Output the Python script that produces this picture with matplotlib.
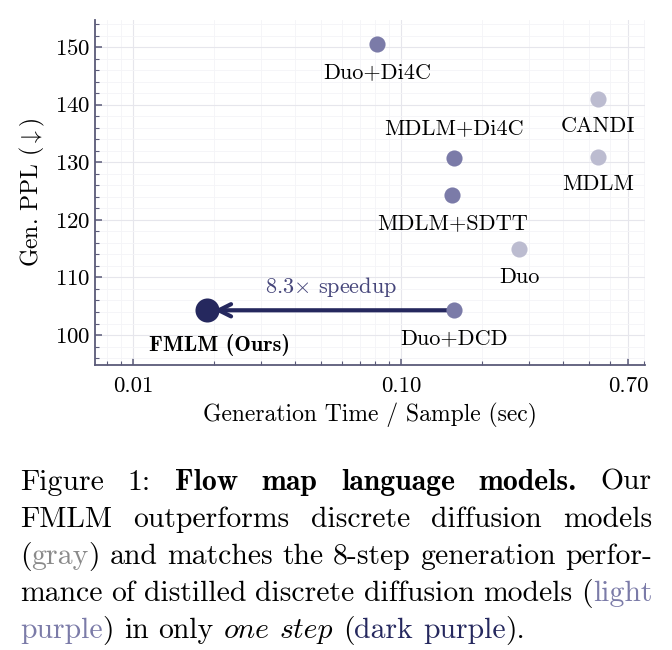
import numpy as np
import matplotlib
matplotlib.use("Agg")
import matplotlib.pyplot as plt
from matplotlib.ticker import FixedLocator, LogLocator, MultipleLocator, NullFormatter

plt.rcParams['font.family'] = ['cmr10', 'DejaVu Serif']
plt.rcParams['mathtext.fontset'] = 'cm'
plt.rcParams['axes.formatter.use_mathtext'] = True

# data (generation time in sec, gen. perplexity)
names = ['Duo+Di4C', 'CANDI', 'MDLM', 'MDLM+Di4C', 'MDLM+SDTT', 'Duo', 'Duo+DCD', 'FMLM (Ours)']
gen_time = [0.081, 0.54, 0.54, 0.157, 0.155, 0.275, 0.157, 0.0189]
gen_ppl = [150.5, 141.0, 131.0, 130.8, 124.3, 114.9, 104.3, 104.3]
group = ['light', 'gray', 'gray', 'light', 'light', 'gray', 'light', 'dark']
label_offset = [(0, -20), (0, -20), (0, -20), (0, 21), (0, -20), (0, -20), (0, -20), (9, -25)]

x_ticks = [0.01, 0.1, 0.7]
x_ticklabels = ['0.01', '0.10', '0.70']
y_ticks = [100, 110, 120, 130, 140, 150]

colors = {'gray': '#bcbcd0', 'light': '#7b7ba8', 'dark': '#25285e'}
axis_col = '#5a5a78'

fig = plt.figure(figsize=(6.72, 6.5), dpi=100)
ax = fig.add_axes([95 / 672, 1 - 365 / 650, 550 / 672, 345 / 650])

ax.set_xscale('log')
ax.set_xlim(0.0072, 0.81)
ax.set_ylim(94.8, 154.7)

# arrow first so the points sit on top
i_src, i_dst = names.index('Duo+DCD'), names.index('FMLM (Ours)')
ax.annotate('', xy=(gen_time[i_dst] * 1.06, gen_ppl[i_dst]), xytext=(gen_time[i_src], gen_ppl[i_src]),
            arrowprops=dict(arrowstyle='->', lw=3, color=colors['dark'], mutation_scale=22,
                            shrinkA=0, shrinkB=0), zorder=2)
ax.text(np.sqrt(gen_time[i_src] * gen_time[i_dst]), gen_ppl[i_src] + 1.9, r'8.3$\times$ speedup',
        ha='center', va='bottom', fontsize=16, color='#45457a')

for n, t, p, g, off in zip(names, gen_time, gen_ppl, group, label_offset):
    ax.scatter(t, p, s=300 if g == 'dark' else 135, color=colors[g], zorder=3, linewidths=0)
    if g == 'dark':
        ax.annotate(n, (t, p), xytext=off, textcoords='offset points', ha='center', va='center',
                    fontsize=16, family='cmb10')
    else:
        ax.annotate(n, (t, p), xytext=off, textcoords='offset points', ha='center', va='center',
                    fontsize=16)

ax.xaxis.set_major_locator(FixedLocator(x_ticks))
ax.set_xticklabels(x_ticklabels)
ax.xaxis.set_minor_locator(LogLocator(base=10, subs=np.arange(2, 10)))
ax.xaxis.set_minor_formatter(NullFormatter())
ax.yaxis.set_major_locator(FixedLocator(y_ticks))
ax.yaxis.set_minor_locator(MultipleLocator(2))

ax.grid(which='major', color='#e6e6ec', lw=0.8)
ax.grid(which='minor', color='#f4f4f7', lw=0.6)
ax.set_axisbelow(True)
for s in ['top', 'right']:
    ax.spines[s].set_visible(False)
for s in ['left', 'bottom']:
    ax.spines[s].set_color(axis_col)
    ax.spines[s].set_linewidth(1.3)
ax.tick_params(which='both', direction='in', color=axis_col, labelsize=16.5)
ax.tick_params(axis='x', which='both', pad=8)
ax.tick_params(axis='y', which='both', pad=3)
ax.tick_params(which='major', length=5, width=1.1)
ax.tick_params(which='minor', length=3, width=0.8)

ax.set_xlabel('Generation Time / Sample (sec)', fontsize=17, labelpad=5)
ax.set_ylabel(r'Gen. PPL ($\downarrow$)', fontsize=17, labelpad=6)

# caption, justified word by word
R, B, I = 'cmr10', 'cmb10', 'cmmi10'
K, G, LP, DP = 'black', '#8a8a8a', '#7b7ba8', '#25285e'
caption = [
    [[('Figure', R, K)], [('1:', R, K)], [('Flow', B, K)], [('map', B, K)], [('language', B, K)],
     [('models.', B, K)], [('Our', R, K)]],
    [[('FMLM', R, K)], [('outperforms', R, K)], [('discrete', R, K)], [('diffusion', R, K)], [('models', R, K)]],
    [[('(', R, K), ('gray', R, G), (')', R, K)], [('and', R, K)], [('matches', R, K)], [('the', R, K)],
     [('8-step', R, K)], [('generation', R, K)], [('perfor-', R, K)]],
    [[('mance', R, K)], [('of', R, K)], [('distilled', R, K)], [('discrete', R, K)], [('diffusion', R, K)],
     [('models', R, K)], [('(', R, K), ('light', R, LP)]],
    [[('purple', R, LP), (')', R, K)], [('in', R, K)], [('only', R, K)], [('one', I, K)], [('step', I, K)],
     [('(', R, K), ('dark', R, DP)], [('purple', R, DP), (').', R, K)]],
]
cap_fs = 21.4
x0, x1 = 20, 652
line_y = [490, 527, 564, 601, 638]
renderer = fig.canvas.get_renderer()
space = fig.text(0, 0, 'a a', fontsize=cap_fs, family=R)
sw = space.get_window_extent(renderer).width
aw = fig.text(0, 0, 'aa', fontsize=cap_fs, family=R)
sw -= aw.get_window_extent(renderer).width
space.remove()
aw.remove()
for li, (line, y) in enumerate(zip(caption, line_y)):
    words = []
    for w in line:
        segs = []
        for txt, fam, col in w:
            t = fig.text(0, 1 - y / 650, txt, fontsize=cap_fs, family=fam, color=col, va='baseline')
            segs.append((t, t.get_window_extent(renderer).width))
        words.append(segs)
    widths = [sum(s[1] for s in segs) for segs in words]
    if li < len(caption) - 1:
        gap = (x1 - x0 - sum(widths)) / (len(words) - 1)
    else:
        gap = sw
    x = x0
    for segs, wd in zip(words, widths):
        xx = x
        for t, tw in segs:
            t.set_x(xx / 672)
            xx += tw
        x += wd + gap

fig.savefig('out.png', dpi=100)
